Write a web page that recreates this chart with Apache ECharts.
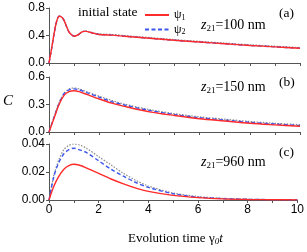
<!DOCTYPE html>
<html><head><meta charset="utf-8">
<script src="https://cdn.jsdelivr.net/npm/echarts@6/dist/echarts.min.js"></script>
<style>html,body{margin:0;padding:0;background:#fff}#c{width:307px;height:252px}</style>
</head><body><div id="c"></div>
<script>
// time grids
var tA = [0,0.1,0.2,0.3,0.4,0.5,0.6,0.7,0.8,0.9,1.0,1.1,1.2,1.3,1.4,1.5,1.6,1.7,1.8,2.0,2.2,2.5,3,3.5,4,5,6,7,8,9,10];
var tB = [0,0.2,0.4,0.6,0.8,1.0,1.2,1.5,2,2.5,3,4,5,6,7,8,9,10];
var tC = [0,0.2,0.4,0.6,0.8,1.0,1.2,1.5,2,2.5,3,3.5,4,5,6,7,8,9,10];
// panel (a) z21=100 nm
var aPsi1 = [0,0.2,0.42,0.6,0.68,0.67,0.62,0.53,0.45,0.41,0.39,0.40,0.42,0.45,0.46,0.46,0.45,0.44,0.43,0.415,0.41,0.405,0.39,0.375,0.36,0.33,0.305,0.28,0.255,0.235,0.215];
var aPsi2 = [0,0.2,0.42,0.6,0.68,0.67,0.62,0.53,0.45,0.41,0.39,0.40,0.42,0.45,0.46,0.46,0.45,0.44,0.43,0.415,0.41,0.405,0.39,0.375,0.36,0.33,0.305,0.28,0.255,0.235,0.215];
var aRef  = [0,0.2,0.42,0.6,0.68,0.67,0.62,0.53,0.45,0.41,0.39,0.40,0.42,0.45,0.465,0.465,0.455,0.445,0.435,0.425,0.42,0.415,0.40,0.385,0.37,0.34,0.315,0.29,0.265,0.245,0.225];
// panel (b) z21=150 nm
var bPsi1 = [0,0.15,0.30,0.40,0.44,0.45,0.44,0.41,0.36,0.315,0.28,0.22,0.18,0.145,0.12,0.095,0.078,0.063];
var bPsi2 = [0,0.16,0.31,0.42,0.46,0.47,0.46,0.43,0.38,0.33,0.295,0.235,0.19,0.155,0.13,0.105,0.087,0.07];
var bRef  = [0,0.16,0.32,0.42,0.47,0.48,0.47,0.44,0.39,0.345,0.305,0.245,0.20,0.165,0.14,0.115,0.095,0.08];
// panel (c) z21=960 nm
var cPsi1 = [0,0.010,0.017,0.022,0.0245,0.0255,0.025,0.023,0.019,0.015,0.0115,0.0085,0.0062,0.0033,0.0017,0.0008,0.0004,0.0002,0.0001];
var cPsi2 = [0,0.017,0.027,0.033,0.036,0.037,0.036,0.034,0.028,0.022,0.017,0.0125,0.009,0.0045,0.002,0.001,0.0005,0.0002,0.0001];
var cRef  = [0,0.018,0.029,0.036,0.039,0.040,0.0395,0.037,0.031,0.025,0.019,0.014,0.010,0.005,0.0025,0.0012,0.0006,0.0003,0.0001];
// axis ticks
var xTicks = [0,2,4,6,8,10];
var yA = [0,0.4,0.8], yB = [0,0.3,0.6], yC = [0,0.02,0.04];

function pairs(t, v){ return t.map(function(x,i){ return [x, v[i]]; }); }

var axisCol = '#555';
var tickFont = {fontFamily:'Liberation Sans', fontSize:12, color:'#000'};
function xAxis(i, showLabel){
  return {type:'value', gridIndex:i, min:xTicks[0], max:xTicks[xTicks.length-1], interval:xTicks[1]-xTicks[0],
    axisLine:{lineStyle:{color:axisCol}}, axisTick:{length:3, lineStyle:{color:axisCol}},
    minorTick:{show:true, splitNumber:2, length:3, lineStyle:{color:axisCol}},
    splitLine:{show:false}, axisLabel:Object.assign({show:showLabel, margin:4}, tickFont)};
}
function yAxis(i, ticks, dec){
  return {type:'value', gridIndex:i, min:ticks[0], max:ticks[ticks.length-1], interval:ticks[1]-ticks[0],
    axisLine:{show:true, lineStyle:{color:axisCol}}, axisTick:{show:true, length:3, lineStyle:{color:axisCol}},
    splitLine:{show:false}, axisLabel:Object.assign({margin:4, formatter:function(v){return v.toFixed(dec);}}, tickFont)};
}
var red = '#ff2a2a', blue = '#3a55ee', gray = '#8a8a8a';
function trio(i, t, r, b, g){
  return [
    {name:'ref', type:'line', xAxisIndex:i, yAxisIndex:i, data:pairs(t,g), symbol:'none', smooth:0.3, lineStyle:{color:gray, width:1.2, type:[1.5,1.5]}, itemStyle:{color:gray}, z:1},
    {name:'ψ2', type:'line', xAxisIndex:i, yAxisIndex:i, data:pairs(t,b), symbol:'none', smooth:0.3, lineStyle:{color:blue, width:1.4, type:[4,2.5]}, itemStyle:{color:blue}, z:2},
    {name:'ψ1', type:'line', xAxisIndex:i, yAxisIndex:i, data:pairs(t,r), symbol:'none', smooth:0.3, lineStyle:{color:red, width:1.4}, itemStyle:{color:red}, z:3}
  ];
}
function zLabel(val){ return '{i|z}{s|21}{n|=' + val + ' nm}'; }
var serif = 'Liberation Serif';
var zRich = {i:{fontFamily:serif, fontStyle:'italic', fontSize:14, fill:'#000'}, s:{fontFamily:serif, fontSize:9, fill:'#000', padding:[7,0,0,0]}, n:{fontFamily:serif, fontSize:14, fill:'#000'}};
function txt(x, y, text, rich){ return {type:'text', left:x, top:y, style:{text:text, rich:rich, fontFamily:serif, fontSize:13.5, fill:'#000'}}; }

var chart = echarts.init(document.getElementById('c'), null, {renderer:'canvas'});
chart.setOption({
  animation:false,
  grid:[
    {left:49, right:7, top:8, height:55},
    {left:49, right:7, top:77, height:55},
    {left:49, right:7, top:144, height:56}
  ],
  xAxis:[xAxis(0,false), xAxis(1,false), xAxis(2,true)],
  yAxis:[yAxis(0,yA,1), yAxis(1,yB,1), yAxis(2,yC,2)],
  legend:{left:139, top:4, orient:'vertical', itemWidth:24, itemHeight:8, itemGap:2,
    data:['ψ1','ψ2'], itemStyle:{opacity:0},
    formatter:function(n){ return '{g|ψ}{s|' + n.slice(1) + '}'; },
    textStyle:{rich:{g:{fontFamily:serif, fontSize:12, color:'#000'}, s:{fontFamily:serif, fontSize:8, color:'#000', padding:[5,0,0,0]}}}},
  series: [].concat(trio(0,tA,aPsi1,aPsi2,aRef), trio(1,tB,bPsi1,bPsi2,bRef), trio(2,tC,cPsi1,cPsi2,cRef)),
  graphic:[
    txt(78, 5, 'initial state'),
    txt(279, 6, '(a)'),
    txt(279, 75, '(b)'),
    txt(279, 145, '(c)'),
    txt(201, 18, zLabel(100), zRich),
    txt(201, 80, zLabel(150), zRich),
    txt(201, 155, zLabel(960), zRich),
    {type:'text', left:3, top:94, style:{text:'C', fontFamily:serif, fontStyle:'italic', fontSize:15, fill:'#000'}},
    {type:'text', left:128, top:232, style:{text:'{n|Evolution time }{g|γ}{s|0}{i|t}', rich:{n:{fontFamily:serif, fontSize:13, fill:'#000'}, g:{fontFamily:serif, fontSize:13, fill:'#000'}, s:{fontFamily:serif, fontStyle:'italic', fontSize:9, fill:'#000', padding:[6,0,0,0]}, i:{fontFamily:serif, fontStyle:'italic', fontSize:13, fill:'#000'}}}}
  ]
});
</script></body></html>
